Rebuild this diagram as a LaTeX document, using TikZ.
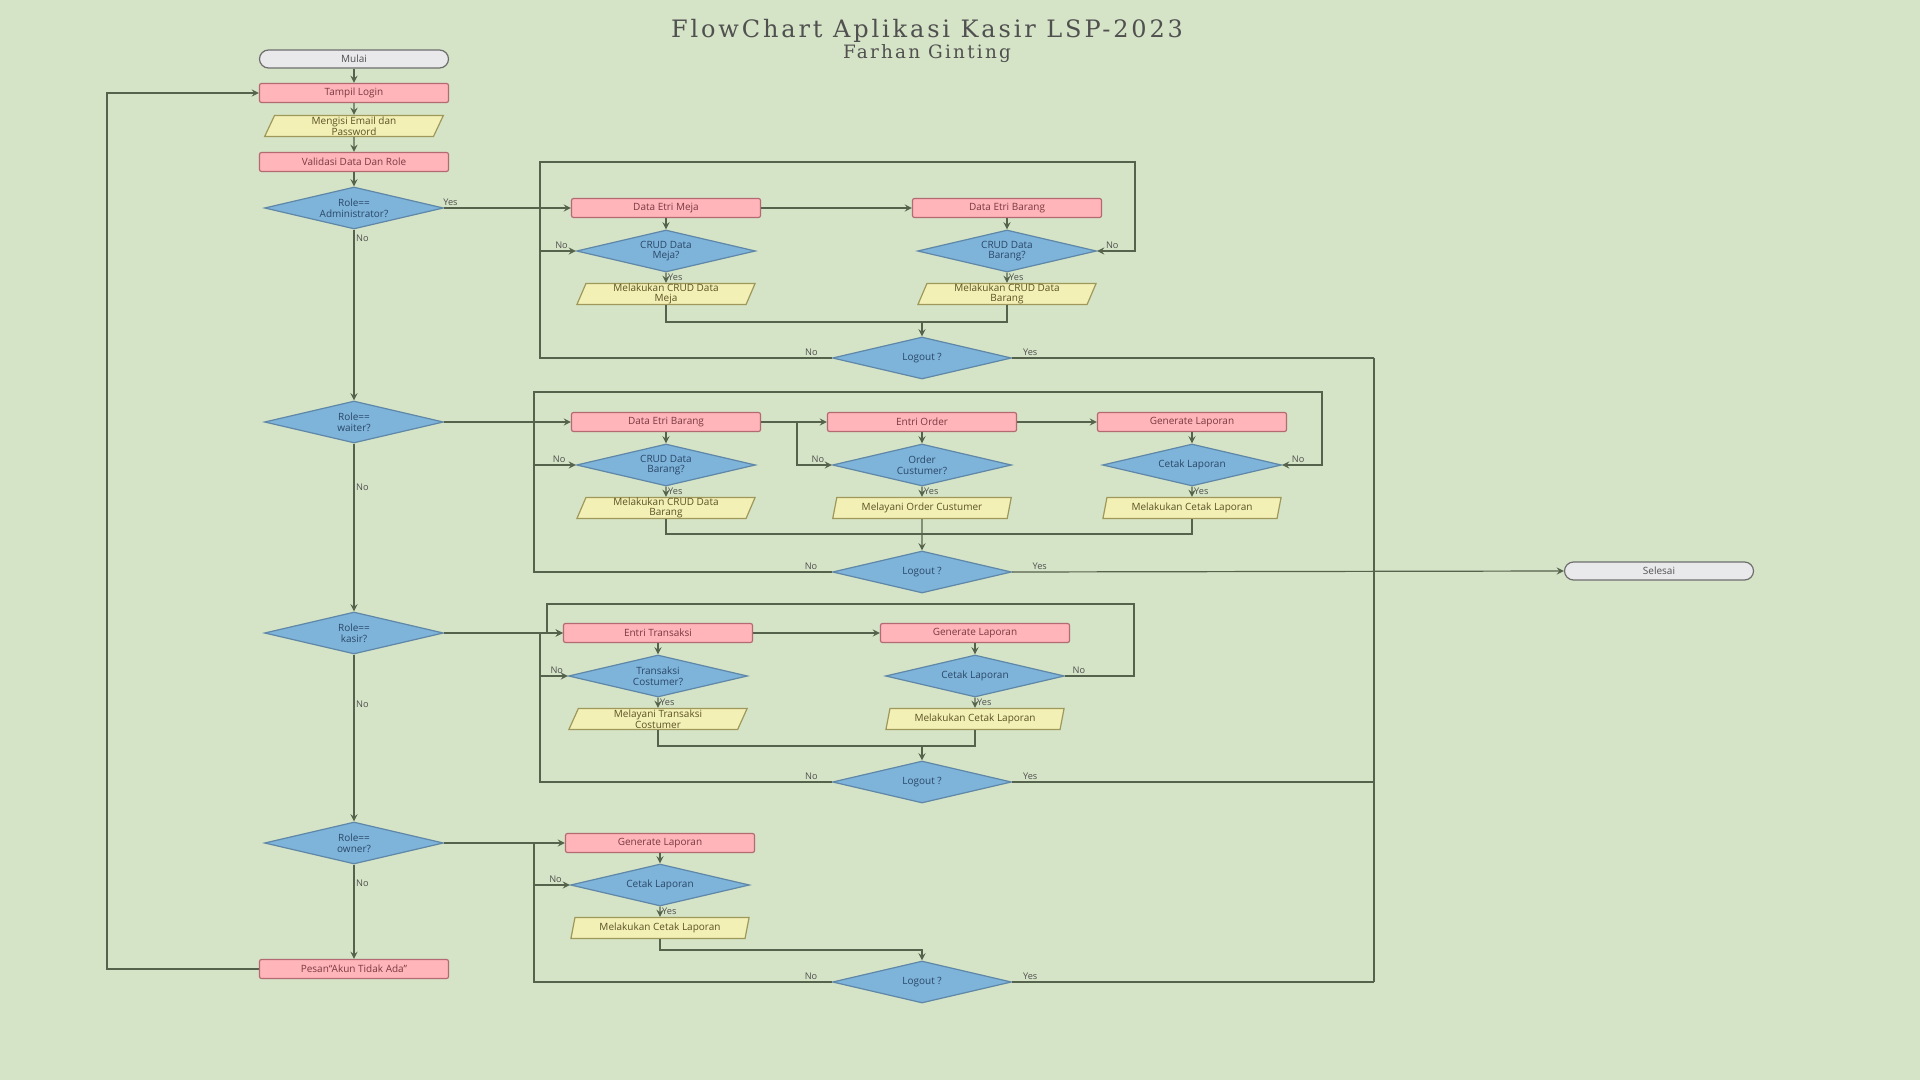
\documentclass[tikz,border=0pt]{standalone}
\usepackage{fontspec}
\setmainfont{Open Sans}
\newfontfamily\titlefont[LetterSpace=12]{DejaVu Serif}
\usetikzlibrary{shapes.geometric}

\definecolor{bgcol}{HTML}{D5E3C6}
\definecolor{linecol}{HTML}{56634C}
\definecolor{procfill}{HTML}{FFB5BA}
\definecolor{procline}{HTML}{B46A72}
\definecolor{proctext}{HTML}{7A3A40}
\definecolor{decfill}{HTML}{7EB3DA}
\definecolor{decline}{HTML}{5E87A8}
\definecolor{dectext}{HTML}{2A4868}
\definecolor{iofill}{HTML}{F3F0B6}
\definecolor{ioline}{HTML}{9E985A}
\definecolor{iotext}{HTML}{5A5224}
\definecolor{termfill}{HTML}{E9E9EB}
\definecolor{termline}{HTML}{6E6E6E}
\definecolor{titlecol}{HTML}{505050}

\begin{document}
\begin{tikzpicture}[x=0.5pt, y=-0.5pt, >=stealth,
    box/.style={inner sep=0pt, align=center, line width=0.6pt, font=\fontsize{5}{5.3}\selectfont},
    proc/.style={box, rectangle, draw=procline, fill=procfill, text=proctext, rounded corners=1pt, minimum width=94.5pt, minimum height=9.5pt},
    io/.style={box, trapezium, trapezium left angle=74, trapezium right angle=106, trapezium stretches=true, draw=ioline, fill=iofill, text=iotext, minimum width=89.5pt, minimum height=10.5pt},
    dec/.style={box, diamond, shape aspect=4, draw=decline, fill=decfill, text=dectext, minimum width=89.5pt, minimum height=21pt},
    term/.style={box, rectangle, rounded corners=4.5pt, draw=termline, fill=termfill, text=titlecol, minimum width=94.5pt, minimum height=9pt},
    lbl/.style={inner sep=0.8pt, text=titlecol, font=\fontsize{4.6}{5}\selectfont},
    conn/.style={draw=linecol, line width=0.6pt},
    arr/.style={conn, ->}]

  % Background and frame
  \fill[bgcol] (0,0) rectangle (1920,1080);
  \useasboundingbox (0,0) rectangle (1920,1080);

  % Title
  \node[font=\titlefont\fontsize{12}{14}\selectfont, text=titlecol] (Title) at (927,31) {FlowChart Aplikasi Kasir LSP-2023};
  \node[font=\titlefont\fontsize{9.2}{11}\selectfont, text=titlecol] (Author) at (927,54) {Farhan Ginting};

  % Main column
  \node[term] (Mulai) at (354,59) {Mulai};
  \node[proc] (Login) at (354,93) {Tampil Login};
  \node[io] (Isi) at (354,126) {Mengisi Email dan\\Password};
  \node[proc] (Valid) at (354,162) {Validasi Data Dan Role};
  \node[dec] (Admin) at (354,208) {Role==\\Administrator?};
  \node[dec] (Waiter) at (354,422) {Role==\\waiter?};
  \node[dec] (Kasir) at (354,633) {Role==\\kasir?};
  \node[dec] (Owner) at (354,843) {Role==\\owner?};
  \node[proc] (Pesan) at (354,969) {Pesan``Akun Tidak Ada''};
  \node[term] (Selesai) at (1659,571) {Selesai};
  \coordinate (LoopL) at (107,93);
  \coordinate (RV) at (1374,0);

  % Administrator
  \node[proc] (AMeja) at (666,208) {Data Etri Meja};
  \node[proc] (ABarang) at (1007,208) {Data Etri Barang};
  \node[dec] (ACrudM) at (666,251) {CRUD Data\\Meja?};
  \node[dec] (ACrudB) at (1007,251) {CRUD Data\\Barang?};
  \node[io] (ADoM) at (666,294) {Melakukan CRUD Data\\Meja};
  \node[io] (ADoB) at (1007,294) {Melakukan CRUD Data\\Barang};
  \node[dec] (ALogout) at (922,358) {Logout ?};
  \coordinate (ATL) at (540,162);
  \coordinate (ATR) at (1135,162);
  \coordinate (AM) at (922,322);

  % Waiter
  \node[proc] (WBarang) at (666,422) {Data Etri Barang};
  \node[proc] (WOrder) at (922,422) {Entri Order};
  \node[proc] (WLap) at (1192,422) {Generate Laporan};
  \node[dec] (WCrudB) at (666,465) {CRUD Data\\Barang?};
  \node[dec] (WCust) at (922,465) {Order\\Custumer?};
  \node[dec] (WCetak) at (1192,465) {Cetak Laporan};
  \node[io] (WDoB) at (666,508) {Melakukan CRUD Data\\Barang};
  \node[io] (WLayani) at (922,508) {Melayani Order Custumer};
  \node[io] (WDoC) at (1192,508) {Melakukan Cetak Laporan};
  \node[dec] (WLogout) at (922,572) {Logout ?};
  \coordinate (WTL) at (534,392);
  \coordinate (WTR) at (1322,392);
  \coordinate (WJ) at (797,422);
  \coordinate (WM) at (922,534);

  % Kasir
  \node[proc] (KTrans) at (658,633) {Entri Transaksi};
  \node[proc] (KLap) at (975,633) {Generate Laporan};
  \node[dec] (KCust) at (658,676) {Transaksi\\Costumer?};
  \node[dec] (KCetak) at (975,676) {Cetak Laporan};
  \node[io] (KLayani) at (658,719) {Melayani Transaksi\\Costumer};
  \node[io] (KDoC) at (975,719) {Melakukan Cetak Laporan};
  \node[dec] (KLogout) at (922,782) {Logout ?};
  \coordinate (KTL) at (547,604);
  \coordinate (KTR) at (1134,604);
  \coordinate (KL) at (540,633);
  \coordinate (KM) at (922,746);

  % Owner
  \node[proc] (OLap) at (660,843) {Generate Laporan};
  \node[dec] (OCetak) at (660,885) {Cetak Laporan};
  \node[io] (ODoC) at (660,928) {Melakukan Cetak Laporan};
  \node[dec] (OLogout) at (922,982) {Logout ?};
  \coordinate (OL) at (534,843);
  \coordinate (OM) at (922,950);

  % Edges, main column
  \draw[arr] (Mulai) -- (Login);
  \draw[arr] (Login) -- (Isi);
  \draw[arr] (Isi) -- (Valid);
  \draw[arr] (Valid) -- (Admin);
  \draw[arr] (Admin) -- node[lbl, right, pos=0.05] {No} (Waiter);
  \draw[arr] (Waiter) -- node[lbl, right, pos=0.26] {No} (Kasir);
  \draw[arr] (Kasir) -- node[lbl, right, pos=0.3] {No} (Owner);
  \draw[arr] (Owner) -- node[lbl, right, pos=0.2] {No} (Pesan);
  \draw[arr] (Pesan.west) -- (Pesan.west -| LoopL) |- (Login.west);
  \draw[conn] (ALogout.east -| RV) -- (OLogout.east -| RV);

  % Edges, administrator
  \draw[arr] (Admin.east) -- node[lbl, above, pos=0.05] {Yes} (AMeja.west);
  \draw[arr] (AMeja) -- (ABarang);
  \draw[arr] (AMeja) -- (ACrudM);
  \draw[arr] (ACrudM) -- node[lbl, right] {Yes} (ADoM);
  \draw[arr] (ABarang) -- (ACrudB);
  \draw[arr] (ACrudB) -- node[lbl, right] {Yes} (ADoB);
  \draw[conn] (ADoM.south) |- (AM);
  \draw[conn] (ADoB.south) |- (AM);
  \draw[arr] (AM) -- (ALogout.north);
  \draw[arr] (ALogout.west) -- node[lbl, above, pos=0.07] {No} (ALogout.west -| ATL) -- (ATL) -- (ATR) |- node[lbl, above, pos=0.8] {No} (ACrudB.east);
  \draw[arr] (ACrudM.west -| ATL) -- node[lbl, above, pos=0.6] {No} (ACrudM.west);
  \draw[conn] (ALogout.east) -- node[lbl, above, pos=0.05] {Yes} (ALogout.east -| RV);

  % Edges, waiter
  \draw[arr] (Waiter.east) -- (WBarang.west);
  \draw[arr] (WBarang) -- (WOrder);
  \draw[arr] (WJ) |- node[lbl, above, pos=0.8] {No} (WCust.west);
  \draw[arr] (WOrder) -- (WLap);
  \draw[arr] (WBarang) -- (WCrudB);
  \draw[arr] (WCrudB) -- node[lbl, right] {Yes} (WDoB);
  \draw[arr] (WOrder) -- (WCust);
  \draw[arr] (WCust) -- node[lbl, right] {Yes} (WLayani);
  \draw[arr] (WLap) -- (WCetak);
  \draw[arr] (WCetak) -- node[lbl, right] {Yes} (WDoC);
  \draw[conn] (WDoB.south) |- (WM);
  \draw[conn] (WDoC.south) |- (WM);
  \draw[arr] (WLayani) -- (WLogout);
  \draw[arr] (WLogout.west) -- node[lbl, above, pos=0.07] {No} (WLogout.west -| WTL) -- (WTL) -- (WTR) |- node[lbl, above, pos=0.8] {No} (WCetak.east);
  \draw[arr] (WCrudB.west -| WTL) -- node[lbl, above, pos=0.6] {No} (WCrudB.west);
  \draw[arr] (WLogout.east) -- node[lbl, above, pos=0.05] {Yes} (Selesai.west);

  % Edges, kasir
  \draw[arr] (Kasir.east) -- (KTrans.west);
  \draw[arr] (KTrans) -- (KLap);
  \draw[arr] (KTrans) -- (KCust);
  \draw[arr] (KCust) -- node[lbl, right] {Yes} (KLayani);
  \draw[arr] (KLap) -- (KCetak);
  \draw[arr] (KCetak) -- node[lbl, right] {Yes} (KDoC);
  \draw[conn] (KLayani.south) |- (KM);
  \draw[conn] (KDoC.south) |- (KM);
  \draw[arr] (KM) -- (KLogout.north);
  \draw[arr] (KCetak.east) -- node[lbl, above, pos=0.2] {No} (KCetak.east -| KTR) -- (KTR) -- (KTL) |- (KTrans.west);
  \draw[conn] (KLogout.west) -- node[lbl, above, pos=0.07] {No} (KLogout.west -| KL) -- (KL);
  \draw[arr] (KCust.west -| KL) -- node[lbl, above, pos=0.6] {No} (KCust.west);
  \draw[conn] (KLogout.east) -- node[lbl, above, pos=0.05] {Yes} (KLogout.east -| RV);

  % Edges, owner
  \draw[arr] (Owner.east) -- (OLap.west);
  \draw[arr] (OLap) -- (OCetak);
  \draw[arr] (OCetak) -- node[lbl, right] {Yes} (ODoC);
  \draw[arr] (ODoC.south) |- (OM) -- (OLogout.north);
  \draw[conn] (OLogout.west) -- node[lbl, above, pos=0.07] {No} (OLogout.west -| OL) -- (OL);
  \draw[arr] (OCetak.west -| OL) -- node[lbl, above, pos=0.6] {No} (OCetak.west);
  \draw[conn] (OLogout.east) -- node[lbl, above, pos=0.05] {Yes} (OLogout.east -| RV);
\end{tikzpicture}
\end{document}
